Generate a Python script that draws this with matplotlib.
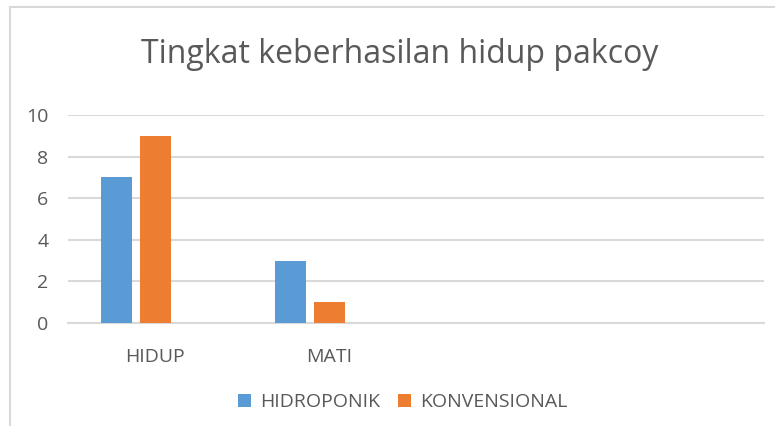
import numpy as np
import matplotlib.pyplot as plt
from matplotlib.patches import Rectangle

categories = ["HIDUP", "MATI", "", ""]
hidroponik = [7, 3]
konvensional = [9, 1]
series_names = ["HIDROPONIK", "KONVENSIONAL"]

plt.rcParams['font.family'] = ['Open Sans', 'DejaVu Sans']
grey = "#595959"
grid = "#d9d9d9"

fig = plt.figure(figsize=(7.75, 4.26), dpi=100)
ax = fig.add_axes([68 / 775, 1 - 323 / 426, (764 - 68) / 775, (323 - 115) / 426])

# chart border (cropped at right/bottom like the source screenshot)
fig.patches.append(Rectangle((10 / 775, -0.1), 1.2, 1 - 7 / 426 + 0.1,
                             transform=fig.transFigure, fill=False,
                             edgecolor=grid, linewidth=1.5))

x = np.arange(len(hidroponik))
w = 31 / 174
step = 39 / 174
ax.bar(x - step, hidroponik, width=w, color="#5B9BD5", label=series_names[0], zorder=3)
ax.bar(x, konvensional, width=w, color="#ED7D31", label=series_names[1], zorder=3)

ax.set_xlim(-0.5, len(categories) - 0.5)
ax.set_ylim(0, 10)
ax.set_yticks(range(0, 11, 2))
ax.set_xticks(range(len(categories)))
ax.set_xticklabels(categories)
ax.tick_params(axis="both", length=0, colors=grey, labelsize=14)
ax.tick_params(axis="y", pad=14)
ax.tick_params(axis="x", pad=18)
ax.yaxis.grid(True, color=grid, linewidth=1.5, zorder=0)
for s in ["top", "right", "left"]:
    ax.spines[s].set_visible(False)
ax.spines["bottom"].set_color(grid)
ax.spines["bottom"].set_linewidth(1.5)

fig.text(0.516, 0.872, "Tingkat keberhasilan hidup pakcoy", ha="center", va="center",
         fontsize=23, color=grey)

fig.legend(loc="center", bbox_to_anchor=(0.52, 1 - 402 / 426), ncol=2, frameon=False,
           fontsize=14, labelcolor=grey, handlelength=0.65, handleheight=0.65,
           handletextpad=0.5, columnspacing=0.9)

fig.savefig("out.png", dpi=100)
